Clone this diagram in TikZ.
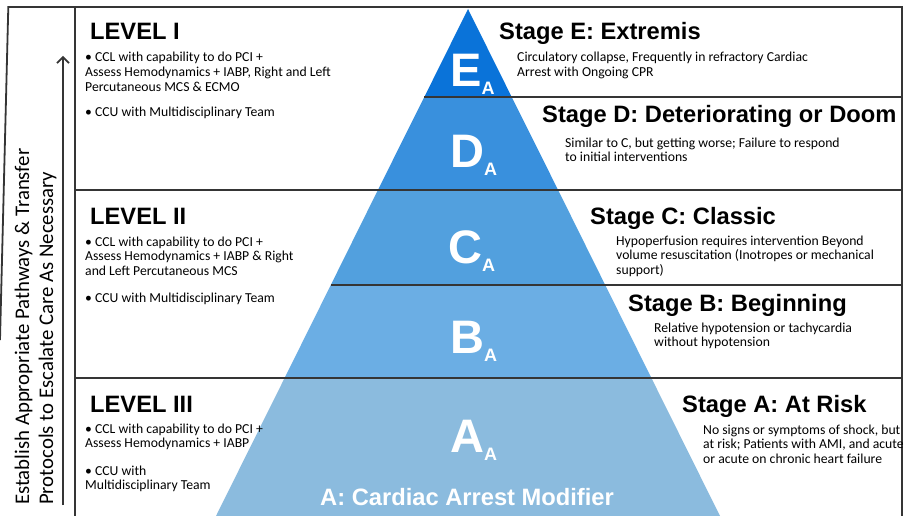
\documentclass[tikz,border=0pt]{standalone}
\usepackage{fontspec}
\setmainfont{Carlito}
\newfontfamily\headfont{Liberation Sans}
\usetikzlibrary{arrows.meta}
\definecolor{cE}{HTML}{0A73D9}
\definecolor{cD}{HTML}{3990DD}
\definecolor{cC}{HTML}{52A0DE}
\definecolor{cB}{HTML}{6BAEE4}
\definecolor{cA}{HTML}{8BBBDE}
\definecolor{rulec}{HTML}{353535}
\tikzset{
  titletext/.style={font=\headfont\bfseries\fontsize{23.7}{24}\selectfont, anchor=base west, inner sep=0pt},
  bodytext/.style={font=\fontsize{13.7}{14.6}\selectfont, anchor=base west, inner sep=0pt, align=left},
  sidetext/.style={font=\fontsize{20.8}{25}\selectfont, anchor=base west, inner sep=0pt, rotate=90},
  bigletter/.style={font=\headfont\bfseries\fontsize{47}{47}\selectfont, text=white, anchor=base west, inner sep=0pt},
  modtext/.style={font=\headfont\bfseries\fontsize{23.7}{24}\selectfont, text=white, anchor=base west, inner sep=0pt},
  rulel/.style={draw=rulec, line width=2pt},
  framel/.style={draw=rulec, line width=1.8pt},
}
\newcommand{\subA}{\raisebox{-8pt}{\fontsize{18}{18}\selectfont A}}
\begin{document}
\begin{tikzpicture}[x=1pt,y=-1pt]
\useasboundingbox (0,0) rectangle (904,516);
\fill[white] (0,0) rectangle (904,516);
% pyramid bands
\coordinate (apex) at (468,9);
\fill[cE] (apex) -- (511.7,97) -- (424.3,97) -- cycle;
\fill[cD] (424.3,97) -- (511.7,97) -- (558.1,190) -- (377.9,190) -- cycle;
\fill[cC] (377.9,190) -- (558.1,190) -- (605.2,285) -- (330.8,285) -- cycle;
\fill[cB] (330.8,285) -- (605.2,285) -- (651.4,378) -- (284.6,378) -- cycle;
\fill[cA] (284.6,378) -- (651.4,378) -- (720,516) -- (216,516) -- cycle;
% frame
\coordinate (tl) at (8.3,7);
\coordinate (tr) at (902,7);
\coordinate (br) at (902,516);
\coordinate (bl) at (0,340);
\coordinate (it) at (75,7);
\coordinate (ib) at (75,516);
\draw[framel] (bl) -- (tl) -- (tr) -- (br);
\draw[framel] (it) -- (ib);
% horizontal rules
\coordinate (r1a) at (424.3,97);  \coordinate (r1b) at (902,97);
\coordinate (r2a) at (75,190);    \coordinate (r2b) at (902,190);
\coordinate (r3a) at (330.8,285); \coordinate (r3b) at (902,285);
\coordinate (r4a) at (75,378);    \coordinate (r4b) at (902,378);
\draw[rulel] (r1a) -- (r1b);
\draw[rulel] (r2a) -- (r2b);
\draw[rulel] (r3a) -- (r3b);
\draw[rulel] (r4a) -- (r4b);
% escalation arrow
\coordinate (arrS) at (63,505);
\coordinate (arrE) at (63,56);
\draw[draw=rulec, line width=1.6pt, -{Straight Barb[length=6pt,width=12pt,line width=1.6pt]}] (arrS) -- (arrE);
% side text
\node[sidetext] (side1) at (29,505) {Establish Appropriate Pathways \& Transfer};
\node[sidetext] (side2) at (53,505) {Protocols to Escalate Care As Necessary};
% levels
\node[titletext] (lv1) at (90,40) {LEVEL I};
\node[bodytext] (lv1a) at (85,91.2) {• CCL with capability to do PCI +\\Assess Hemodynamics + IABP, Right and Left\\Percutaneous MCS \& ECMO};
\node[bodytext] (lv1b) at (85,117) {• CCU with Multidisciplinary Team};
\node[titletext] (lv2) at (90,224) {LEVEL II};
\node[bodytext] (lv2a) at (85,275.2) {• CCL with capability to do PCI +\\Assess Hemodynamics + IABP \& Right\\and Left Percutaneous MCS};
\node[bodytext] (lv2b) at (85,302) {• CCU with Multidisciplinary Team};
\node[titletext] (lv3) at (90,412) {LEVEL III};
\node[bodytext] (lv3a) at (85,447.6) {• CCL with capability to do PCI +\\Assess Hemodynamics + IABP};
\node[bodytext] (lv3b) at (85,489.6) {• CCU with\\Multidisciplinary Team};
% pyramid letters
\node[bigletter] (lE) at (450,87) {E\subA};
\node[bigletter] (lD) at (450,167) {D\subA};
\node[bigletter] (lC) at (448,263) {C\subA};
\node[bigletter] (lB) at (450,353) {B\subA};
\node[bigletter] (lA) at (450,452) {A\subA};
\node[modtext] (mod) at (320,505) {A: Cardiac Arrest Modifier};
% stages
\node[titletext] (sE) at (499,40) {Stage E: Extremis};
\node[bodytext] (dE) at (517,76.6) {Circulatory collapse, Frequently in refractory Cardiac\\Arrest with Ongoing CPR};
\node[titletext] (sD) at (542,122) {Stage D: Deteriorating or Doom};
\node[bodytext] (dD) at (565,161.6) {Similar to C, but getting worse; Failure to respond\\to initial interventions};
\node[titletext] (sC) at (590,224) {Stage C: Classic};
\node[bodytext] (dC) at (616,274.2) {Hypoperfusion requires intervention Beyond\\volume resuscitation (Inotropes or mechanical\\support)};
\node[titletext] (sB) at (628,311) {Stage B: Beginning};
\node[bodytext] (dB) at (654,346.6) {Relative hypotension or tachycardia\\without hypotension};
\node[titletext] (sA) at (682,412) {Stage A: At Risk};
\node[bodytext] (dA) at (703,463.2) {No signs or symptoms of shock, but\\at risk; Patients with AMI, and acute\\or acute on chronic heart failure};
\end{tikzpicture}
\end{document}
